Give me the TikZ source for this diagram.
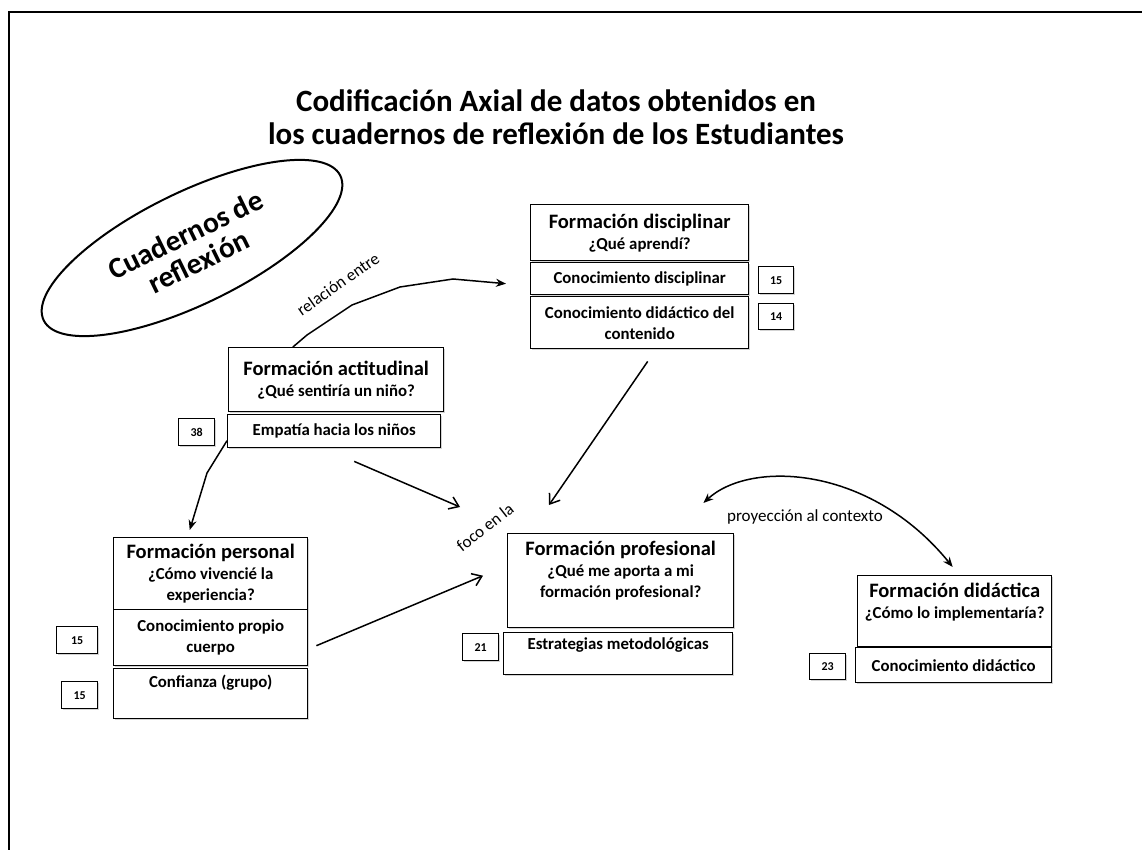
\documentclass[tikz,border=0pt]{standalone}
\usepackage{fontspec}
\setmainfont{Carlito}
\usetikzlibrary{arrows.meta,shapes.geometric,shadows,calc}
\newcommand{\hdrf}{\fontsize{20.5}{21}\selectfont\bfseries}
\newcommand{\subf}{\fontsize{16.8}{21}\selectfont\bfseries}
\begin{document}
\begin{tikzpicture}[x=1pt,y=-1pt,
  box/.style={draw, line width=1.4pt, fill=white, anchor=north west, inner sep=0pt,
    align=center, font=\subf,
    drop shadow={shadow xshift=1pt, shadow yshift=-1pt, opacity=0.35}},
  numbox/.style={box, font=\fontsize{12}{13}\selectfont\bfseries},
  txt/.style={anchor=north, align=center, inner sep=0pt, font=\subf},
  lbl/.style={font=\fontsize{17}{18}\selectfont, inner sep=0pt},
  barb/.style={line width=1.5pt, -{Straight Barb[length=9pt,width=13pt,line width=1.5pt]}},
  tri/.style={line width=1.5pt, -{Stealth[length=10pt,width=8pt]}},
  arc/.style={line width=1.5pt, {Stealth[length=10pt,width=8pt]}-{Stealth[length=10pt,width=8pt]}}]
\useasboundingbox (0,0) rectangle (1142,850);
% page frame
\draw[line width=2.5pt] (9,850) -- (9,12) -- (1142,12);
% title
\node[font=\fontsize{31}{33}\selectfont\bfseries, align=center] (title) at (556,117)
  {Codificación Axial de datos obtenidos en\\los cuadernos de reflexión de los Estudiantes};
% ellipse
\node[draw, ellipse, line width=2pt, minimum width=330pt, minimum height=112pt, inner sep=0pt,
  rotate=26, align=center, font=\fontsize{29.5}{30}\selectfont\bfseries] (cua) at (192,248)
  {Cuadernos de\\reflexión};
% Formación actitudinal
\node[box, minimum width=215pt, minimum height=64pt] (act) at (228,347)
  {{\hdrf Formación actitudinal}\\¿Qué sentiría un niño?};
\node[box, minimum width=213pt, minimum height=33pt] (emp) at (227,414) {Empatía hacia los niños};
\node[numbox, minimum width=36pt, minimum height=27pt] (n38) at (178,418) {38};
% Formación disciplinar
\node[box, minimum width=218pt, minimum height=56pt] (dis) at (530,204)
  {{\hdrf Formación disciplinar}\\¿Qué aprendí?};
\node[box, minimum width=218pt, minimum height=32pt] (dis1) at (530,262) {Conocimiento disciplinar};
\node[box, minimum width=218pt, minimum height=52pt] (dis2) at (530,296) {Conocimiento didáctico del\\contenido};
\node[numbox, minimum width=35pt, minimum height=27pt] (n15a) at (758,266) {15};
\node[numbox, minimum width=35pt, minimum height=26pt] (n14) at (758,303) {14};
% Formación personal
\node[box, minimum width=194pt, minimum height=72pt] (per) at (113,537)
  {{\hdrf Formación personal}\\¿Cómo vivencié la\\experiencia?};
\node[box, minimum width=194pt, minimum height=56pt] (per1) at (113,609) {Conocimiento propio\\cuerpo};
\node[box, minimum width=194pt, minimum height=50pt] (per2) at (113,668) {};
\node[txt] (per2t) at ([yshift=-7pt]per2.north) {Confianza (grupo)};
\node[numbox, minimum width=41pt, minimum height=27pt] (n15b) at (56,626) {15};
\node[numbox, minimum width=36pt, minimum height=27pt] (n15c) at (61,681) {15};
% Formación profesional
\node[box, minimum width=226pt, minimum height=94pt] (pro) at (507,533) {};
\node[txt] (prot) at ([yshift=-8pt]pro.north) {{\hdrf Formación profesional}\\¿Qué me aporta a mi\\formación profesional?};
\node[box, minimum width=229pt, minimum height=42pt] (pro1) at (503,632) {};
\node[txt] (pro1t) at ([yshift=-6pt]pro1.north) {Estrategias metodológicas};
\node[numbox, minimum width=36pt, minimum height=27pt] (n21) at (462,633) {21};
% Formación didáctica
\node[box, minimum width=194pt, minimum height=71pt] (dida) at (857,575) {};
\node[txt] (didat) at ([yshift=-8pt]dida.north) {{\hdrf Formación didáctica}\\¿Cómo lo implementaría?};
\node[box, minimum width=196pt, minimum height=35pt] (dida1) at (855,647) {Conocimiento didáctico};
\node[numbox, minimum width=36pt, minimum height=26pt] (n23) at (809,653) {23};
% connectors
\coordinate (r0) at ($(act.north west)!0.3!(act.north east)$);
\draw[tri] (r0) -- (307,335) -- (352,305) -- (400,287) -- (453,279) -- ([xshift=-24pt,yshift=-5pt]dis1.west);
\draw[tri] ([yshift=-9.5pt]emp.west) -- (207,473) -- ([xshift=-21pt,yshift=7pt]per.north);
\draw[barb] ([xshift=20pt,yshift=-13pt]emp.south) -- ([xshift=-47pt,yshift=26pt]pro.north west);
\draw[barb] ([xshift=8pt,yshift=-12pt]dis2.south) -- ([xshift=42pt,yshift=28pt]pro.north west);
\draw[barb] ([xshift=8pt,yshift=-8pt]per1.east) -- ([xshift=-24pt,yshift=5pt]pro.west);
\draw[arc] ([xshift=-31pt,yshift=30pt]pro.north east) .. controls (750,460) and (870,465) .. ([xshift=-2pt,yshift=8pt]dida.north);
% labels
\node[lbl, rotate=35] (l1) at (338,284) {relación entre};
\node[lbl, rotate=38] (l2) at (485,527) {foco en la};
\node[lbl] (l3) at (805,517) {proyección al contexto};
\end{tikzpicture}
\end{document}
